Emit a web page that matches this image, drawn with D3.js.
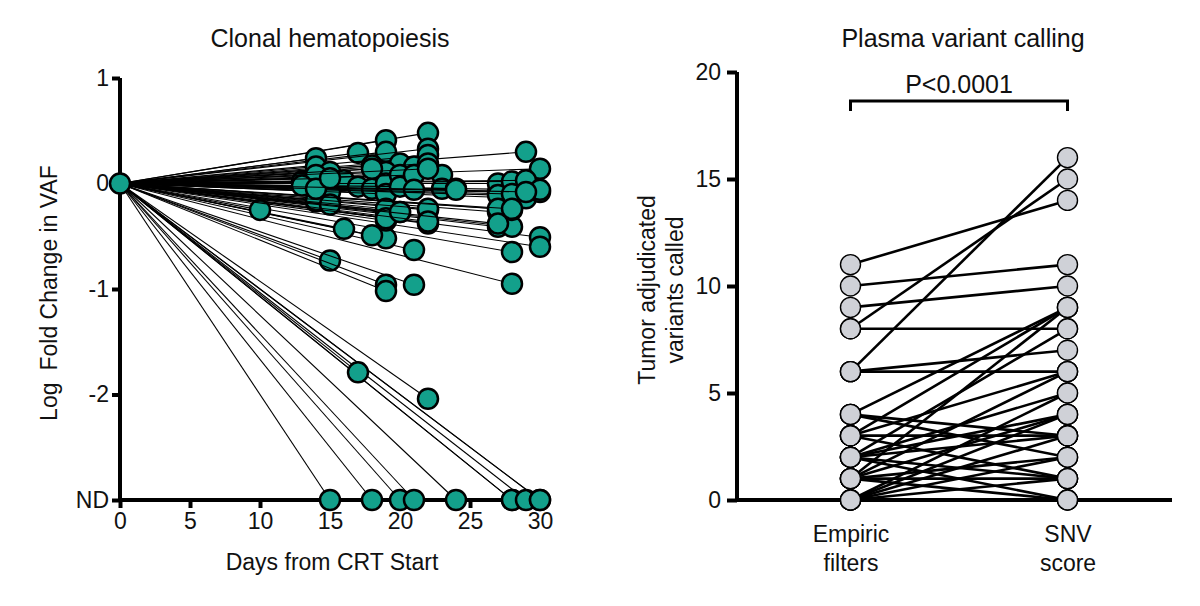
<!DOCTYPE html>
<html>
<head>
<meta charset="utf-8">
<script src="https://cdn.jsdelivr.net/npm/d3@7"></script>
<style>
  body { margin: 0; background: #fff; }
  svg text { font-family: "Liberation Sans", Arial, sans-serif; fill: #111; }
</style>
</head>
<body>
<div id="chart"></div>
<script>
// Clonal hematopoiesis: days after CRT start and log2 fold change (-3 = ND)
const chDays = [15, 18, 20, 21, 24, 28, 28, 29, 30, 30,
  17, 22, 15, 19, 19, 21, 28, 21, 28, 30, 30, 19, 18, 16, 22, 27, 28,
  10, 14, 15, 19, 19, 20, 22, 27, 28, 27, 29, 30, 30,
  22, 19, 17, 19, 22, 22, 29, 14, 14, 13, 18, 20, 21, 22, 23, 23, 24,
  27, 28, 29, 30, 15, 15, 15, 14, 15, 16, 17, 18, 19, 19, 19, 19, 19,
  20, 20, 20, 21, 21, 22, 22, 27, 27, 27, 28, 28, 29,
  14, 14, 13, 14, 15, 18, 22, 24];
const chLogFC = [-3, -3, -3, -3, -3, -3, -3, -3, -3, -3,
  -1.79, -2.04, -0.73, -0.96, -1.02, -0.96, -0.95, -0.63, -0.65, -0.51, -0.6, -0.52, -0.49, -0.43, -0.38, -0.41, -0.41,
  -0.25, -0.17, -0.17, -0.35, -0.27, -0.27, -0.25, -0.27, -0.25, -0.08, -0.14, -0.08, 0.14,
  0.48, 0.41, 0.29, 0.3, 0.33, 0.27, 0.3, 0.24, 0.16, 0.02, 0.17, 0.19, 0.16, 0.19, 0.08, -0.05, -0.05,
  0, 0.02, 0.03, -0.06, 0.11, 0.02, -0.08, -0.16, -0.2, 0.03, -0.03, -0.05, 0.11, 0, -0.1, -0.24, -0.33,
  0.08, -0.03, -0.27, 0.08, -0.06, -0.24, -0.36, -0.11, -0.24, -0.38, -0.1, -0.24, -0.08,
  0, 0.08, -0.02, -0.05, 0.05, 0.14, 0.14, -0.06];
const chYTicks = [1, 0, -1, -2, -3];
const chXTicks = [0, 5, 10, 15, 20, 25, 30];

// Plasma variant calling: paired counts per sample
const methods = ["Empiric filters", "SNV score"];
const empiric = [11, 10, 9, 8, 8, 6, 6, 6, 4, 4, 4, 3, 3, 3, 3, 3, 2, 2, 2, 2, 2, 2,
  1, 1, 1, 1, 1, 1, 0, 0, 0, 0, 0, 0];
const snv = [14, 11, 10, 15, 8, 16, 7, 6, 9, 3, 2, 9, 6, 3, 3, 1, 8, 5, 4, 3, 1, 0,
  9, 6, 4, 2, 1, 0, 5, 4, 3, 2, 1, 0];
const pvTicks = [0, 5, 10, 15, 20];

const width = 1200, height = 606;
const FS = '23px', TFS = '25px';
const svg = d3.select('#chart').append('svg')
  .attr('width', width).attr('height', height);

// ---------- left panel ----------
const x1 = d3.scaleLinear().domain([0, 30]).range([120, 540]);
const y1 = d3.scaleLinear().domain([-3, 1]).range([500, 78]);

const left = svg.append('g');

const xAx1 = left.append('g')
  .attr('transform', `translate(0,${y1(-3)})`)
  .call(d3.axisBottom(x1).tickValues(chXTicks).tickSize(8).tickPadding(5));
const yAx1 = left.append('g')
  .attr('transform', `translate(${x1(0)},0)`)
  .call(d3.axisLeft(y1).tickValues(chYTicks).tickSize(8).tickPadding(3)
    .tickFormat(d => d === -3 ? 'ND' : String(d)));
[xAx1, yAx1].forEach(a => {
  a.select('.domain').attr('stroke-width', 4).attr('stroke', '#000');
  a.selectAll('.tick line').attr('stroke-width', 4).attr('stroke', '#000');
  a.selectAll('.tick text').style('font-size', FS).attr('fill', '#111');
});
xAx1.select('.domain').attr('d', `M${x1(0)},0H${x1(30) + 6}`);
yAx1.select('.domain').attr('d', `M0,${y1(1)}V${y1(-3)}`);

// each variant: line from baseline then its point (drawn in order, as in Prism)
chDays.forEach((d, i) => {
  const g = left.append('g');
  g.append('line')
    .attr('x1', x1(0)).attr('y1', y1(0))
    .attr('x2', x1(d)).attr('y2', y1(chLogFC[i]))
    .attr('stroke', '#000').attr('stroke-width', 1.1);
  g.append('circle')
    .attr('cx', x1(d)).attr('cy', y1(chLogFC[i])).attr('r', 10)
    .attr('fill', '#13a08b').attr('stroke', '#000').attr('stroke-width', 2.5);
});
left.append('circle')
  .attr('cx', x1(0)).attr('cy', y1(0)).attr('r', 10)
  .attr('fill', '#13a08b').attr('stroke', '#000').attr('stroke-width', 2.5);

left.append('text').attr('x', 330).attr('y', 47).attr('text-anchor', 'middle')
  .style('font-size', TFS).text('Clonal hematopoiesis');
left.append('text').attr('x', 332).attr('y', 570).attr('text-anchor', 'middle')
  .style('font-size', FS).text('Days from CRT Start');
const yl = left.append('text')
  .attr('transform', 'translate(57,293) rotate(-90)')
  .attr('text-anchor', 'middle').style('font-size', FS);
yl.append('tspan').text('Log');
yl.append('tspan').attr('dx', 12).text('Fold Change in VAF');

// ---------- right panel ----------
const x2 = d3.scalePoint().domain(methods).range([742, 1176]).padding(0.5);
const y2 = d3.scaleLinear().domain([0, 20]).range([500, 72]);
const right = svg.append('g');

const yAx2 = right.append('g')
  .attr('transform', 'translate(737,0)')
  .call(d3.axisLeft(y2).tickValues(pvTicks).tickSize(10).tickPadding(6));
yAx2.select('.domain').attr('d', `M0,${y2(20)}V${y2(0)}`)
  .attr('stroke-width', 4).attr('stroke', '#000');
yAx2.selectAll('.tick line').attr('stroke-width', 4).attr('stroke', '#000');
yAx2.selectAll('.tick text').style('font-size', FS).attr('fill', '#111');

const xAx2 = right.append('g')
  .attr('transform', `translate(0,${y2(0)})`)
  .call(d3.axisBottom(x2).tickSize(0).tickPadding(26));
xAx2.select('.domain').attr('d', 'M735,0H1172')
  .attr('stroke-width', 4).attr('stroke', '#000');
xAx2.selectAll('.tick text').style('font-size', FS).attr('fill', '#111')
  .each(function (d) {
    const t = d3.select(this), words = d.split(' ');
    t.text(null);
    words.forEach((w, k) => t.append('tspan').attr('x', 0).attr('dy', k ? '1.25em' : '0.71em').text(w));
  });

empiric.forEach((e, i) => {
  right.append('line')
    .attr('x1', x2(methods[0])).attr('y1', y2(e))
    .attr('x2', x2(methods[1])).attr('y2', y2(snv[i]))
    .attr('stroke', '#000').attr('stroke-width', 2.6);
});
empiric.forEach((e, i) => {
  right.append('circle').attr('cx', x2(methods[0])).attr('cy', y2(e)).attr('r', 10)
    .attr('fill', '#cfd1d7').attr('stroke', '#000').attr('stroke-width', 1.4);
  right.append('circle').attr('cx', x2(methods[1])).attr('cy', y2(snv[i])).attr('r', 10)
    .attr('fill', '#cfd1d7').attr('stroke', '#000').attr('stroke-width', 1.4);
});

// significance bracket
const bx0 = x2(methods[0]), bx1 = x2(methods[1]);
right.append('path')
  .attr('d', `M${bx0},111V101H${bx1}V111`)
  .attr('fill', 'none').attr('stroke', '#000').attr('stroke-width', 3);
right.append('text').attr('x', (bx0 + bx1) / 2).attr('y', 93).attr('text-anchor', 'middle')
  .style('font-size', TFS).text('P<0.0001');

right.append('text').attr('x', 963).attr('y', 47).attr('text-anchor', 'middle')
  .style('font-size', TFS).text('Plasma variant calling');
const yl2 = right.append('text')
  .attr('transform', 'translate(655,290) rotate(-90)')
  .attr('text-anchor', 'middle').style('font-size', FS);
yl2.append('tspan').attr('x', 0).text('Tumor adjudicated');
yl2.append('tspan').attr('x', 0).attr('dy', 28).text('variants called');
</script>
</body>
</html>
